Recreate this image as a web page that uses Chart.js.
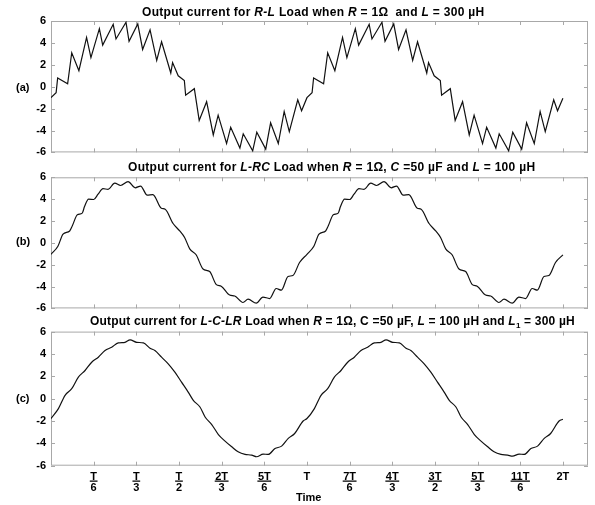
<!DOCTYPE html>
<html>
<head>
<meta charset="utf-8">
<script src="https://cdn.jsdelivr.net/npm/chart.js@4.4.1/dist/chart.umd.min.js"></script>
<style>
  body { margin: 0; background: #fff; width: 595px; height: 505px; position: relative; overflow: hidden;
         font-family: "Liberation Sans", Arial, sans-serif; }
  canvas { position: absolute; left: 0; }
  .txt { position: absolute; font-weight: bold; font-size: 11px; line-height: 13px; white-space: pre; color: #000; }
  .ttl { font-size: 12px; letter-spacing: 0.3px; }
</style>
</head>
<body>
<canvas id="chartA" width="595" height="164" style="top:0px"></canvas>
<canvas id="chartB" width="595" height="156" style="top:164px"></canvas>
<canvas id="chartC" width="595" height="185" style="top:320px"></canvas>

<div class="txt ttl" style="left:142px;top:6px">Output current for <i>R-L</i> Load when <i>R</i> = 1Ω  and <i>L</i> = 300 µH</div>
<div class="txt ttl" style="left:128px;top:161px">Output current for <i>L-RC</i> Load when <i>R</i> = 1Ω, <i>C</i> =50 µF and <i>L</i> = 100 µH</div>
<div class="txt ttl" style="left:90px;top:315px;letter-spacing:0.2px">Output current for <i>L-C-LR</i> Load when <i>R</i> = 1Ω, C =50 µF, <i>L</i> = 100 µH and <i>L</i><sub style="font-size:8px;line-height:0">1</sub> = 300 µH</div>
<div class="txt" style="left:16px;top:81px">(a)</div>
<div class="txt" style="left:16px;top:235px">(b)</div>
<div class="txt" style="left:16px;top:392px">(c)</div>
<div class="txt" style="left:296px;top:491px">Time</div>

<script>
// time axis in units of T
const xTicks = [1/6, 2/6, 3/6, 4/6, 5/6, 1, 7/6, 8/6, 9/6, 10/6, 11/6, 2];
const xLabels = [["T","6"], ["T","3"], ["T","2"], ["2T","3"], ["5T","6"], "T",
                 ["7T","6"], ["4T","3"], ["3T","2"], ["5T","3"], ["11T","6"], "2T"];

// (a) R-L load
const tA = [0.000,0.020,0.026,0.065,0.081,0.109,0.139,0.156,0.189,0.202,0.243,0.254,0.293,0.305,
            0.339,0.358,0.387,0.413,0.432,0.468,0.475,0.497,0.521,0.526,0.560,0.579,0.608,0.634,
            0.653,0.686,0.702,0.738,0.751,0.788,0.804,0.839,0.858,0.888,0.911,0.931,0.964,0.979,
            1.000,1.020,1.026,1.065,1.081,1.109,1.139,1.156,1.189,1.202,1.243,1.254,1.293,1.305,
            1.339,1.358,1.387,1.413,1.432,1.468,1.475,1.497,1.521,1.526,1.560,1.579,1.608,1.634,
            1.653,1.686,1.702,1.738,1.751,1.788,1.804,1.839,1.858,1.888,1.911,1.931,1.964,1.979,2.000];
const iA = [-1.0,-0.55,0.8,0.27,3.1,1.46,4.5,2.66,5.3,3.8,5.7,4.36,5.88,4.15,
            5.73,3.4,5.2,2.4,4.1,1.25,2.2,1.0,0.56,-0.78,-0.18,-3.08,-1.37,-4.4,
            -2.6,-5.19,-3.7,-5.6,-4.3,-5.85,-4.15,-5.7,-3.3,-5.19,-2.26,-4.1,-1.2,-2.2,
            -1.0,-0.55,0.8,0.27,3.1,1.46,4.5,2.66,5.3,3.8,5.7,4.36,5.88,4.15,
            5.73,3.4,5.2,2.4,4.1,1.25,2.2,1.0,0.56,-0.78,-0.18,-3.08,-1.37,-4.4,
            -2.6,-5.19,-3.7,-5.6,-4.3,-5.85,-4.15,-5.7,-3.3,-5.19,-2.26,-4.1,-1.2,-2.2,-1.05];

// (b) L-RC load
const tB = [0.000,0.027,0.047,0.073,0.083,0.103,0.122,0.131,0.147,0.167,0.184,0.203,0.223,0.249,
            0.272,0.301,0.329,0.350,0.376,0.398,0.431,0.446,0.477,0.503,0.522,0.542,0.567,0.594,
            0.620,0.646,0.665,0.698,0.718,0.750,0.770,0.802,0.828,0.854,0.880,0.900,0.926,0.945,0.971,
            1.000,1.027,1.047,1.073,1.083,1.103,1.122,1.131,1.147,1.167,1.184,1.203,1.223,1.249,
            1.272,1.301,1.329,1.350,1.376,1.398,1.431,1.446,1.477,1.503,1.522,1.542,1.567,1.594,
            1.620,1.646,1.665,1.698,1.718,1.750,1.770,1.802,1.828,1.854,1.880,1.900,1.926,1.945,1.971,2.000];
const iB = [-1.05,-0.31,0.79,1.09,1.54,2.57,2.72,3.32,4.0,3.97,4.45,4.96,4.9,5.46,
            5.25,5.6,5.04,5.2,4.36,4.42,3.17,3.08,1.77,1.09,0.49,-0.55,-1.09,-2.39,
            -2.63,-3.82,-3.97,-4.78,-4.87,-5.46,-5.16,-5.52,-4.96,-5.1,-4.18,-4.33,-3.08,-2.99,-1.8,
            -1.05,-0.31,0.79,1.09,1.54,2.57,2.72,3.32,4.0,3.97,4.45,4.96,4.9,5.46,
            5.25,5.6,5.04,5.2,4.36,4.42,3.17,3.08,1.77,1.09,0.49,-0.55,-1.09,-2.39,
            -2.63,-3.82,-3.97,-4.78,-4.87,-5.46,-5.16,-5.52,-4.96,-5.1,-4.18,-4.33,-3.08,-2.99,-1.8,-1.1];

// (c) L-C-LR load
const tC = [0.000,0.029,0.055,0.081,0.107,0.133,0.159,0.185,0.211,0.237,0.263,0.289,0.309,0.335,
            0.361,0.387,0.406,0.432,0.458,0.484,0.510,0.536,0.556,0.582,0.602,0.628,0.654,0.680,
            0.706,0.731,0.758,0.784,0.803,0.829,0.849,0.875,0.901,0.927,0.952,0.985,
            1.000,1.029,1.055,1.081,1.107,1.133,1.159,1.185,1.211,1.237,1.263,1.289,1.309,1.335,
            1.361,1.387,1.406,1.432,1.458,1.484,1.510,1.536,1.556,1.582,1.602,1.628,1.654,1.680,
            1.706,1.731,1.758,1.784,1.803,1.829,1.849,1.875,1.901,1.927,1.952,1.985,2.000];
const iC = [-1.78,-0.89,0.29,0.89,1.93,2.52,3.26,3.71,4.3,4.6,4.99,5.04,5.26,5.04,
            4.99,4.51,4.3,3.71,3.12,2.37,1.48,0.59,-0.15,-0.75,-1.64,-2.32,-3.21,-3.8,
            -4.31,-4.76,-4.99,-5.05,-5.2,-4.96,-4.99,-4.46,-4.25,-3.56,-3.12,-2.0,
            -1.78,-0.89,0.29,0.89,1.93,2.52,3.26,3.71,4.3,4.6,4.99,5.04,5.26,5.04,
            4.99,4.51,4.3,3.71,3.12,2.37,1.48,0.59,-0.15,-0.75,-1.64,-2.32,-3.21,-3.8,
            -4.31,-4.76,-4.99,-5.05,-5.14,-4.96,-4.99,-4.46,-4.25,-3.56,-3.12,-2.0,-1.85];

const tickFont = { family: "Liberation Sans", size: 11, weight: "bold" };

// gray box round the plot with short inward ticks on all four sides
const framePlugin = {
  id: "frame",
  beforeDatasetsDraw(chart) {
    const { ctx, chartArea: a, scales } = chart;
    ctx.save();
    ctx.strokeStyle = "#a8a8a8";
    ctx.lineWidth = 1;
    ctx.strokeRect(a.left + 0.5, a.top + 0.5, a.right - a.left - 1, a.bottom - a.top - 1);
    ctx.beginPath();
    xTicks.forEach(v => {
      const x = Math.round(scales.x.getPixelForValue(v)) + 0.5;
      ctx.moveTo(x, a.top); ctx.lineTo(x, a.top + 4);
      ctx.moveTo(x, a.bottom); ctx.lineTo(x, a.bottom - 4);
    });
    scales.y.ticks.forEach(t => {
      const y = Math.round(scales.y.getPixelForValue(t.value)) + 0.5;
      ctx.moveTo(a.left, y); ctx.lineTo(a.left + 4, y);
      ctx.moveTo(a.right, y); ctx.lineTo(a.right - 4, y);
    });
    ctx.stroke();
    ctx.restore();
  }
};

// bar between numerator and denominator of the time labels
const fracPlugin = {
  id: "frac",
  afterDraw(chart) {
    if (!chart.options.plugins.frac.show) return;
    const { ctx, chartArea: a, scales } = chart;
    ctx.save();
    ctx.font = "bold 11px 'Liberation Sans'";
    ctx.strokeStyle = "#000";
    ctx.lineWidth = 1.2;
    ctx.beginPath();
    xLabels.forEach((lab, i) => {
      if (!Array.isArray(lab)) return;
      const w = Math.max(...lab.map(s => ctx.measureText(s).width)) + 1;
      const x = scales.x.getPixelForValue(xTicks[i]);
      ctx.moveTo(x - w / 2, a.bottom + 15.5);
      ctx.lineTo(x + w / 2, a.bottom + 15.5);
    });
    ctx.stroke();
    ctx.restore();
  }
};

function makeChart(id, t, v, smooth, showX, padTop, xHeight) {
  const pts = t.map((x, i) => ({ x: x, y: v[i] }));
  return new Chart(document.getElementById(id), {
    type: "line",
    data: {
      datasets: [{
        data: pts,
        borderColor: "#111",
        borderWidth: 1.2,
        pointRadius: 0,
        fill: false,
        tension: smooth ? 0.4 : 0,
        cubicInterpolationMode: smooth ? "monotone" : "default"
      }]
    },
    options: {
      responsive: false,
      animation: false,
      layout: { padding: { top: padTop, right: 7, left: 0, bottom: 0 } },
      plugins: { legend: { display: false }, tooltip: { enabled: false }, frac: { show: showX } },
      scales: {
        x: {
          type: "linear",
          min: 0,
          max: 2.098,
          grid: { display: false, drawTicks: false, tickLength: 0 },
          border: { display: false },
          afterBuildTicks: s => { s.ticks = xTicks.map(x => ({ value: x })); },
          afterFit: s => { s.height = xHeight; },
          ticks: {
            display: showX,
            autoSkip: false,
            maxRotation: 0,
            padding: 5,
            color: "#000",
            font: { family: "Liberation Sans", size: 11, weight: "bold", lineHeight: 1.05 },
            callback: (val, i) => xLabels[i]
          }
        },
        y: {
          min: -6,
          max: 6,
          grid: { display: false, drawTicks: false, tickLength: 0 },
          border: { display: false },
          afterFit: s => { s.width = 51; },
          ticks: { stepSize: 2, padding: 5, color: "#000", font: tickFont }
        }
      }
    },
    plugins: [framePlugin, fracPlugin]
  });
}

makeChart("chartA", tA, iA, false, false, 21, 9);
makeChart("chartB", tB, iB, true, false, 13.3, 8.3);
makeChart("chartC", tC, iC, true, true, 11, 39.3);
</script>
</body>
</html>
